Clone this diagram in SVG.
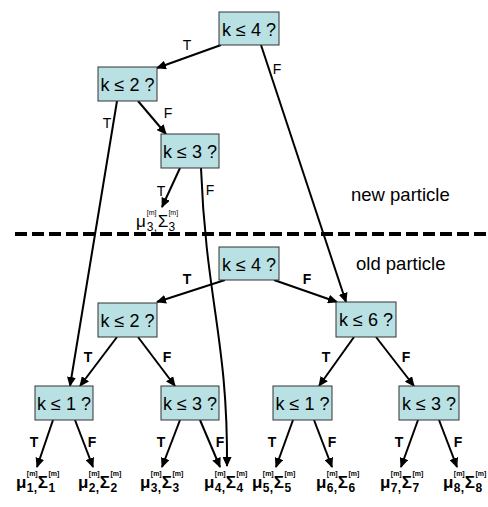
<svg xmlns="http://www.w3.org/2000/svg" width="488" height="507" viewBox="0 0 488 507">
<defs>
<marker id="ah" markerUnits="userSpaceOnUse" markerWidth="10" markerHeight="9" refX="9" refY="4.5" orient="auto">
<path d="M0,0 L10,4.5 L0,9 Z" fill="#000"/>
</marker>
<style>
.box{fill:#b9e1e4;stroke:#333;stroke-width:1}
.nt{font-family:"Liberation Sans",Arial,sans-serif;font-size:18px;fill:#000;text-anchor:middle}
.e{fill:none;stroke:#000;stroke-width:2;marker-end:url(#ah)}
.lr{font-family:"Liberation Sans",Arial,sans-serif;font-size:14px;fill:#000;text-anchor:middle}
.lb{font-family:"Liberation Sans",Arial,sans-serif;font-size:14px;font-weight:bold;fill:#000;text-anchor:middle}
.cap{font-family:"Liberation Sans",Arial,sans-serif;font-size:18.5px;fill:#000}
.lf{font-family:"Liberation Sans",Arial,sans-serif;font-weight:bold;fill:#000}
.lf.rg{font-weight:normal}
.mu{font-size:17px}
.sp{font-size:7px}
.sb{font-size:12px}
</style>
</defs>
<rect width="488" height="507" fill="#fff"/>
<line x1="15" y1="234" x2="488" y2="234" stroke="#000" stroke-width="4" stroke-dasharray="12,5"/>
<text class="cap" x="351" y="201">new particle</text>
<text class="cap" x="356" y="270">old particle</text>
<g id="connectors">
<path class="e" d="M221,45 L157,68"/>
<path class="e" d="M261,45 L346,302"/>
<path class="e" d="M117,101 L70,386"/>
<path class="e" d="M138,101 L166,134"/>
<path class="e" d="M180,168 L162,207"/>
<path class="e" d="M201,168 C206,300 228,340 227,466"/>
<path class="e" d="M225,280 L157,302"/>
<path class="e" d="M274,280 L337,302"/>
<path class="e" d="M117,337 L80,386"/>
<path class="e" d="M138,337 L175,386"/>
<path class="e" d="M354,337 L319,386"/>
<path class="e" d="M376,337 L414,386"/>
<path class="e" d="M53,420 L37,467"/>
<path class="e" d="M75,420 L93,467"/>
<path class="e" d="M180,420 L162,467"/>
<path class="e" d="M200,420 L220,467"/>
<path class="e" d="M293,420 L276,467"/>
<path class="e" d="M314,420 L332,467"/>
<path class="e" d="M418,420 L401,467"/>
<path class="e" d="M439,420 L457,467"/>
<text class="lr" x="187" y="50">T</text>
<text class="lr" x="277" y="74">F</text>
<text class="lr" x="107" y="128">T</text>
<text class="lr" x="168" y="118">F</text>
<text class="lr" x="161" y="196">T</text>
<text class="lr" x="210" y="195">F</text>
<text class="lb" x="187" y="284">T</text>
<text class="lb" x="307" y="284">F</text>
<text class="lb" x="88" y="362">T</text>
<text class="lb" x="167" y="362">F</text>
<text class="lb" x="326" y="362">T</text>
<text class="lb" x="406" y="362">F</text>
<text class="lb" x="34" y="447">T</text>
<text class="lb" x="92" y="447">F</text>
<text class="lb" x="161" y="447">T</text>
<text class="lb" x="220" y="447">F</text>
<text class="lb" x="272" y="447">T</text>
<text class="lb" x="332" y="447">F</text>
<text class="lb" x="399" y="447">T</text>
<text class="lb" x="458" y="447">F</text>
</g>
<g id="new4"><rect class="box" x="219" y="12" width="60" height="33"/><text class="nt" x="249" y="36">k ≤ 4 ?</text></g>
<g id="new2"><rect class="box" x="98" y="67" width="59" height="34"/><text class="nt" x="127.5" y="91">k ≤ 2 ?</text></g>
<g id="new3"><rect class="box" x="161" y="134" width="58" height="34"/><text class="nt" x="190" y="158">k ≤ 3 ?</text></g>
<g id="old4"><rect class="box" x="219" y="247" width="60" height="33"/><text class="nt" x="249" y="271">k ≤ 4 ?</text></g>
<g id="old2"><rect class="box" x="98" y="303" width="59" height="34"/><text class="nt" x="127.5" y="327">k ≤ 2 ?</text></g>
<g id="old6"><rect class="box" x="336" y="302" width="60" height="35"/><text class="nt" x="366" y="326">k ≤ 6 ?</text></g>
<g id="old1a"><rect class="box" x="35" y="386" width="58" height="34"/><text class="nt" x="64" y="410">k ≤ 1 ?</text></g>
<g id="old3a"><rect class="box" x="161" y="386" width="58" height="34"/><text class="nt" x="190" y="410">k ≤ 3 ?</text></g>
<g id="old1b"><rect class="box" x="273" y="386" width="59" height="34"/><text class="nt" x="302.5" y="410">k ≤ 1 ?</text></g>
<g id="old3b"><rect class="box" x="399" y="386" width="60" height="34"/><text class="nt" x="429" y="410">k ≤ 3 ?</text></g>
<g id="leafnew3" transform="translate(136,-261)"><text class="lf rg"><tspan class="mu" x="0" y="488">μ</tspan><tspan class="sp" x="10.8" y="476">[m]</tspan><tspan class="sb" x="10.8" y="492">3</tspan><tspan class="sb" x="17.8" y="492">,</tspan><tspan class="mu" x="21.8" y="488">Σ</tspan><tspan class="sp" x="32.4" y="476">[m]</tspan><tspan class="sb" x="32.4" y="492">3</tspan></text></g>
<g id="leaf1" transform="translate(16,0)"><text class="lf"><tspan class="mu" x="0" y="488">μ</tspan><tspan class="sp" x="10.8" y="476">[m]</tspan><tspan class="sb" x="10.8" y="492">1</tspan><tspan class="sb" x="17.8" y="492">,</tspan><tspan class="mu" x="21.8" y="488">Σ</tspan><tspan class="sp" x="32.4" y="476">[m]</tspan><tspan class="sb" x="32.4" y="492">1</tspan></text></g>
<g id="leaf2" transform="translate(78,0)"><text class="lf"><tspan class="mu" x="0" y="488">μ</tspan><tspan class="sp" x="10.8" y="476">[m]</tspan><tspan class="sb" x="10.8" y="492">2</tspan><tspan class="sb" x="17.8" y="492">,</tspan><tspan class="mu" x="21.8" y="488">Σ</tspan><tspan class="sp" x="32.4" y="476">[m]</tspan><tspan class="sb" x="32.4" y="492">2</tspan></text></g>
<g id="leaf3" transform="translate(140,0)"><text class="lf"><tspan class="mu" x="0" y="488">μ</tspan><tspan class="sp" x="10.8" y="476">[m]</tspan><tspan class="sb" x="10.8" y="492">3</tspan><tspan class="sb" x="17.8" y="492">,</tspan><tspan class="mu" x="21.8" y="488">Σ</tspan><tspan class="sp" x="32.4" y="476">[m]</tspan><tspan class="sb" x="32.4" y="492">3</tspan></text></g>
<g id="leaf4" transform="translate(204,0)"><text class="lf"><tspan class="mu" x="0" y="488">μ</tspan><tspan class="sp" x="10.8" y="476">[m]</tspan><tspan class="sb" x="10.8" y="492">4</tspan><tspan class="sb" x="17.8" y="492">,</tspan><tspan class="mu" x="21.8" y="488">Σ</tspan><tspan class="sp" x="32.4" y="476">[m]</tspan><tspan class="sb" x="32.4" y="492">4</tspan></text></g>
<g id="leaf5" transform="translate(252,0)"><text class="lf"><tspan class="mu" x="0" y="488">μ</tspan><tspan class="sp" x="10.8" y="476">[m]</tspan><tspan class="sb" x="10.8" y="492">5</tspan><tspan class="sb" x="17.8" y="492">,</tspan><tspan class="mu" x="21.8" y="488">Σ</tspan><tspan class="sp" x="32.4" y="476">[m]</tspan><tspan class="sb" x="32.4" y="492">5</tspan></text></g>
<g id="leaf6" transform="translate(316,0)"><text class="lf"><tspan class="mu" x="0" y="488">μ</tspan><tspan class="sp" x="10.8" y="476">[m]</tspan><tspan class="sb" x="10.8" y="492">6</tspan><tspan class="sb" x="17.8" y="492">,</tspan><tspan class="mu" x="21.8" y="488">Σ</tspan><tspan class="sp" x="32.4" y="476">[m]</tspan><tspan class="sb" x="32.4" y="492">6</tspan></text></g>
<g id="leaf7" transform="translate(380,0)"><text class="lf"><tspan class="mu" x="0" y="488">μ</tspan><tspan class="sp" x="10.8" y="476">[m]</tspan><tspan class="sb" x="10.8" y="492">7</tspan><tspan class="sb" x="17.8" y="492">,</tspan><tspan class="mu" x="21.8" y="488">Σ</tspan><tspan class="sp" x="32.4" y="476">[m]</tspan><tspan class="sb" x="32.4" y="492">7</tspan></text></g>
<g id="leaf8" transform="translate(443,0)"><text class="lf"><tspan class="mu" x="0" y="488">μ</tspan><tspan class="sp" x="10.8" y="476">[m]</tspan><tspan class="sb" x="10.8" y="492">8</tspan><tspan class="sb" x="17.8" y="492">,</tspan><tspan class="mu" x="21.8" y="488">Σ</tspan><tspan class="sp" x="32.4" y="476">[m]</tspan><tspan class="sb" x="32.4" y="492">8</tspan></text></g>
</svg>
